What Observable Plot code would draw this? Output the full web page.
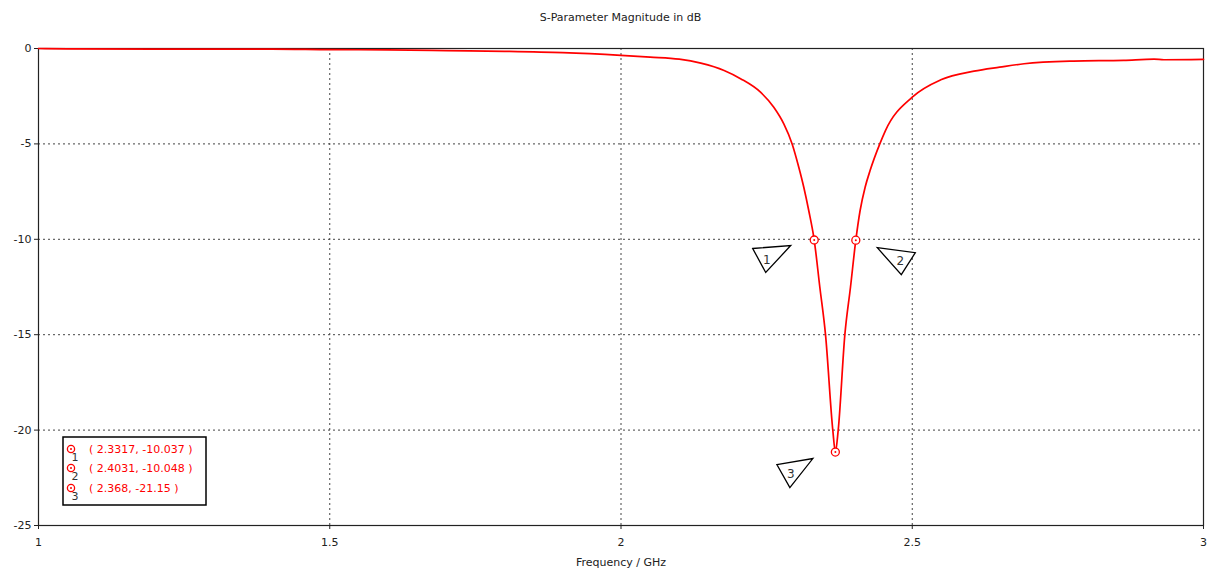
<!DOCTYPE html>
<html>
<head>
<meta charset="utf-8">
<script src="https://cdn.jsdelivr.net/npm/d3@7"></script>
<script src="https://cdn.jsdelivr.net/npm/@observablehq/plot@0.6"></script>
<style>
  html, body { margin: 0; padding: 0; background: #fff; }
  #title { height: 36px; line-height: 36px; padding-left: 28px; width: 1185px; text-align: center;
           font-family: "DejaVu Sans", sans-serif; font-size: 11px; color: #222; }
</style>
</head>
<body>
<div id="title">S-Parameter Magnitude in dB</div>
<div id="chart"></div>
<script>
// ---- data ----
const freqGHz = [1.0, 1.05, 1.2, 1.4, 1.5, 1.6, 1.7, 1.8, 1.9, 2.0, 2.05, 2.1, 2.137, 2.177, 2.2052, 2.2395, 2.2623, 2.2795, 2.2938, 2.3052, 2.3138, 2.3223, 2.3317, 2.3413, 2.3511, 2.3636, 2.368, 2.3729, 2.3843, 2.394, 2.4031, 2.4105, 2.4191, 2.4276, 2.4443, 2.454, 2.5, 2.549, 2.606, 2.65, 2.692, 2.777, 2.863, 2.915, 2.932, 3.0];
const s11dB   = [0, -0.02, -0.03, -0.03, -0.06, -0.07, -0.11, -0.15, -0.22, -0.36, -0.45, -0.56, -0.77, -1.15, -1.58, -2.29, -3.08, -3.95, -5.0, -6.22, -7.27, -8.49, -10.037, -12.5, -15, -20, -21.15, -20, -15, -12.5, -10.048, -8.49, -7.27, -6.4, -5.0, -4.3, -2.55, -1.64, -1.19, -0.98, -0.80, -0.66, -0.62, -0.56, -0.59, -0.57];

const markerIds  = ["1", "2", "3"];
const markerFreq = [2.3317, 2.4031, 2.368];
const markerVal  = [-10.037, -10.048, -21.15];
const markerText = ["( 2.3317, -10.037 )", "( 2.4031, -10.048 )", "( 2.368, -21.15 )"];

const xTicks = [1, 1.5, 2, 2.5, 3];
const xTickLabels = ["1", "1.5", "2", "2.5", "3"];
const yTicks = [0, -5, -10, -15, -20, -25];
const yTickLabels = ["0", "-5", "-10", "-15", "-20", "-25"];
const xGrid = [1.5, 2, 2.5];
const yGrid = [-5, -10, -15, -20];

// ---- tables built from the arrays ----
const curve = freqGHz.map((f, i) => ({f, v: s11dB[i]}));
const markers = markerIds.map((id, i) => ({id, f: markerFreq[i], v: markerVal[i], text: markerText[i]}));

// callout triangle shapes (pixel offsets from each marker) — layout only
const calloutShapes = [
  {tri: [[-61, 9], [-23, 6], [-48, 33]], label: [-47, 20]},
  {tri: [[22, 8], [60, 13], [46, 35]], label: [45, 21]},
  {tri: [[-58, 13], [-22, 7], [-45, 36]], label: [-44, 22]}
];

const red = "#ff0000";
const font = "DejaVu Sans, sans-serif";

function overlay(index, scales, values, dimensions) {
  const g = d3.create("svg:g");
  const sx = scales.x, sy = scales.y;
  // callout triangles
  markers.forEach((m, i) => {
    const px = sx(m.f), py = sy(m.v);
    const s = calloutShapes[i];
    g.append("path")
      .attr("d", "M" + s.tri.map(([dx, dy]) => [px + dx, py + dy].join(",")).join("L") + "Z")
      .attr("fill", "white").attr("stroke", "#000").attr("stroke-width", 1.3);
    g.append("text")
      .attr("x", px + s.label[0]).attr("y", py + s.label[1])
      .attr("text-anchor", "middle").attr("dominant-baseline", "central")
      .attr("font-family", font).attr("font-size", 12).attr("fill", "#333")
      .text(m.id);
  });
  // legend box
  const bx = dimensions.marginLeft + 25;
  const bh = 68, bw = 143;
  const by = dimensions.height - dimensions.marginBottom - 20 - bh;
  g.append("rect").attr("x", bx).attr("y", by).attr("width", bw).attr("height", bh)
    .attr("fill", "white").attr("stroke", "#000").attr("stroke-width", 1.5);
  const rowY = [12, 31, 51];
  markers.forEach((m, i) => {
    const cy = by + rowY[i], cx = bx + 8;
    g.append("circle").attr("cx", cx).attr("cy", cy).attr("r", 3.6)
      .attr("fill", "white").attr("stroke", red).attr("stroke-width", 1.3);
    g.append("circle").attr("cx", cx).attr("cy", cy).attr("r", 1).attr("fill", red);
    g.append("text").attr("x", cx + 4).attr("y", cy + 8)
      .attr("text-anchor", "middle").attr("dominant-baseline", "central")
      .attr("font-family", font).attr("font-size", 11).attr("fill", "#333")
      .text(m.id);
    g.append("text").attr("x", bx + 26).attr("y", cy)
      .attr("text-anchor", "start").attr("dominant-baseline", "central")
      .attr("font-family", font).attr("font-size", 11).attr("fill", red)
      .text(m.text);
  });
  return g.node();
}

const chart = Plot.plot({
  width: 1213,
  height: 537,
  marginTop: 12,
  marginRight: 10,
  marginBottom: 48,
  marginLeft: 38,
  style: {fontFamily: font, fontSize: "11px", color: "#222", background: "white"},
  x: {domain: [1, 3]},
  y: {domain: [-25, 0]},
  marks: [
    Plot.gridX(xGrid, {stroke: "#444", strokeOpacity: 1, strokeDasharray: "2,3"}),
    Plot.gridY(yGrid, {stroke: "#444", strokeOpacity: 1, strokeDasharray: "2,3"}),
    Plot.frame({stroke: "#222", strokeWidth: 1.2}),
    Plot.axisX({ticks: xTicks, tickFormat: (d, i) => xTickLabels[i], tickSize: 4, tickPadding: 9, label: null}),
    Plot.axisY({ticks: yTicks, tickFormat: (d, i) => yTickLabels[i], tickSize: 4, tickPadding: 3, label: null}),
    Plot.text(["Frequency / GHz"], {frameAnchor: "bottom", dy: 40, fontSize: 11}),
    Plot.line(curve, {x: "f", y: "v", stroke: red, strokeWidth: 1.7, curve: "monotone-x"}),
    Plot.dot(markers, {x: "f", y: "v", r: 4, stroke: red, strokeWidth: 1.3, fill: "white"}),
    Plot.dot(markers, {x: "f", y: "v", r: 1, fill: red}),
    overlay
  ]
});
document.getElementById("chart").appendChild(chart);
</script>
</body>
</html>
